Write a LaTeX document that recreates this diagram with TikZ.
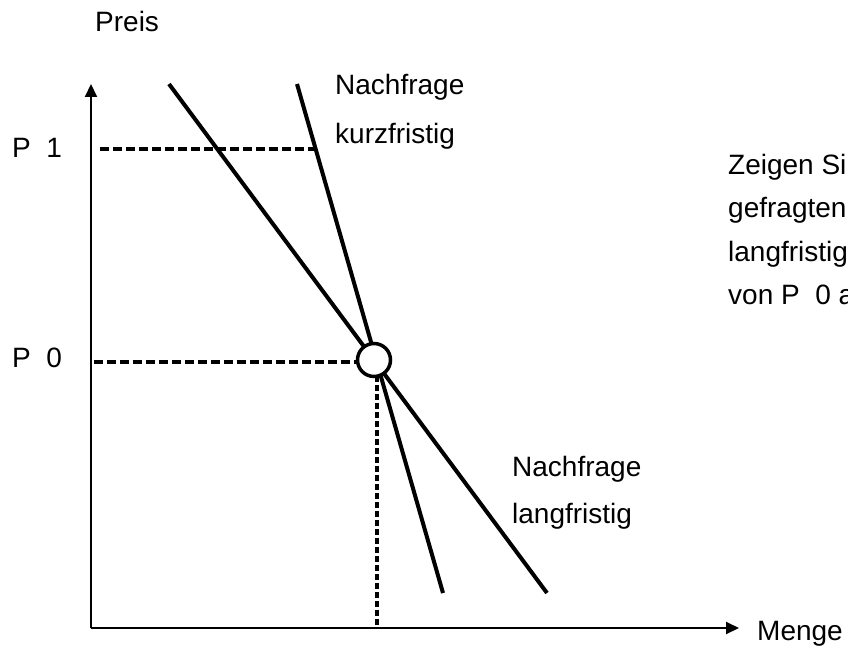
\documentclass[tikz,border=0pt]{standalone}
\usepackage{fontspec}
\setmainfont{Liberation Sans}
\usetikzlibrary{arrows.meta}
\begin{document}
\begin{tikzpicture}[x=1pt,y=-1pt,
  lbl/.style={anchor=base west,inner sep=0pt,font=\fontsize{28}{28}\selectfont},
  axis/.style={line width=2pt,-{Triangle[length=13pt,width=12pt]}},
  curve/.style={line width=4pt},
  hdash/.style={line width=4pt,dash pattern=on 9pt off 4pt},
  vdash/.style={line width=4pt,dash pattern=on 6pt off 3pt},
  eqpt/.style={circle,draw,fill=white,line width=3.5pt,minimum size=33pt,inner sep=0pt}]
\useasboundingbox (0,0) rectangle (848,647);
\clip (0,0) rectangle (848,647);
% axes
\coordinate (O) at (91,628);
\coordinate (Ytip) at (91,84);
\coordinate (Xtip) at (739,628);
\draw[axis] (O) -- (Ytip);
\draw[axis] (O) -- (Xtip);
% demand curves
\coordinate (kTop) at (297,84);
\coordinate (kBot) at (443,593);
\coordinate (lTop) at (169,84);
\coordinate (lBot) at (547,593);
\draw[curve] (kTop) -- (kBot);
\draw[curve] (lTop) -- (lBot);
% dashed guides
\coordinate (p1a) at (100,149);
\coordinate (p1b) at (316,149);
\draw[hdash] (p1a) -- (p1b);
\node[eqpt] (E) at (374,360) {};
\coordinate (p0a) at (94,362);
\draw[hdash] (p0a) -- (E.west |- p0a);
\coordinate (qa) at (377,376);
\coordinate (qb) at (377,627);
\draw[vdash] (qa) -- (qb);
% labels
\node[lbl] (preis) at (95,32) {Preis};
\node[lbl] (menge) at (757,640) {Menge};
\node[lbl] (p1) at (12,158) {P\ \ 1};
\node[lbl] (p0) at (12,367) {P\ \ 0};
\node[lbl] (nk1) at (335,95) {Nachfrage};
\node[lbl] (nk2) at (335,144) {kurzfristig};
\node[lbl] (nl1) at (512,476) {Nachfrage};
\node[lbl] (nl2) at (512,523) {langfristig};
\node[lbl] (t1) at (728,175) {Zeigen Si};
\node[lbl] (t2) at (728,218) {gefragten};
\node[lbl] (t3) at (728,261) {langfristig};
\node[lbl] (t4) at (728,304) {von P\ \ 0 a};
\end{tikzpicture}
\end{document}
